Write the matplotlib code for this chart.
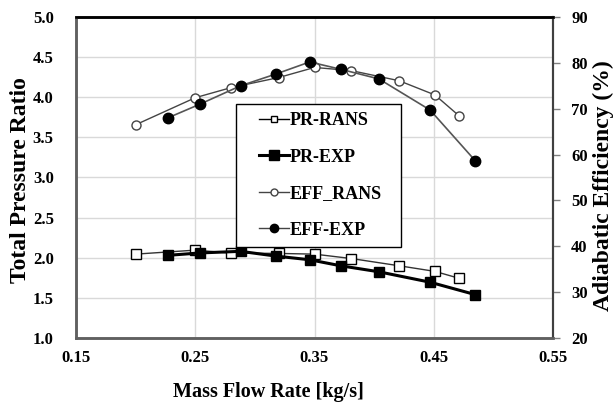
import matplotlib
matplotlib.use("Agg")
import matplotlib.pyplot as plt
from matplotlib.lines import Line2D
from matplotlib.legend_handler import HandlerLine2D

# Data
pr_rans_x = [0.200, 0.250, 0.280, 0.320, 0.350, 0.381, 0.421, 0.451, 0.471]
pr_rans_y = [2.045, 2.095, 2.058, 2.054, 2.045, 1.99, 1.90, 1.83, 1.745]
pr_exp_x = [0.227, 0.254, 0.288, 0.318, 0.346, 0.372, 0.404, 0.447, 0.485]
pr_exp_y = [2.03, 2.06, 2.08, 2.02, 1.975, 1.90, 1.825, 1.695, 1.54]
eff_rans_x = [0.200, 0.250, 0.280, 0.320, 0.350, 0.381, 0.421, 0.451, 0.471]
eff_rans_y = [66.5, 72.4, 74.6, 76.8, 79.0, 78.3, 76.1, 73.0, 68.5]
eff_exp_x = [0.227, 0.254, 0.288, 0.318, 0.346, 0.372, 0.404, 0.447, 0.485]
eff_exp_y = [68.0, 71.0, 75.0, 77.6, 80.2, 78.6, 76.5, 69.7, 58.6]

x_ticks = [0.15, 0.25, 0.35, 0.45, 0.55]
pr_ticks = [1.0, 1.5, 2.0, 2.5, 3.0, 3.5, 4.0, 4.5, 5.0]
eff_ticks = [20, 30, 40, 50, 60, 70, 80, 90]
legend_labels = ['PR-RANS', 'PR-EXP', 'EFF_RANS', 'EFF-EXP']

plt.rcParams['font.family'] = ['Liberation Serif', 'DejaVu Serif']
plt.rcParams['font.weight'] = 'bold'

fig = plt.figure(figsize=(6.14, 4.04), dpi=100)
ax = fig.add_axes([76/614, 1-338/404, (553-76)/614, (338-17)/404])
ax2 = ax.twinx()

ax.set_xlim(0.15, 0.55)
ax.set_ylim(1.0, 5.0)
ax2.set_ylim(20, 90)
ax.set_xticks(x_ticks)
ax.set_xticklabels([f"{v:.2f}" for v in x_ticks])
ax.set_yticks(pr_ticks)
ax.set_yticklabels([f"{v:.1f}" for v in pr_ticks])
ax2.set_yticks(eff_ticks)
ax2.set_yticklabels([str(v) for v in eff_ticks])

ax.grid(True, color='#d9d9d9', linewidth=1.0)
ax.set_axisbelow(True)
ax.tick_params(axis='x', length=0, pad=9, labelsize=12)
ax.tick_params(axis='y', length=0, pad=16, labelsize=12)
ax2.tick_params(axis='y', length=5, width=1, color='#808080', pad=8, labelsize=12, direction='out')

for a in (ax, ax2):
    a.spines['left'].set_color('#606060')
    a.spines['left'].set_linewidth(1.8)
    a.spines['bottom'].set_color('#606060')
    a.spines['bottom'].set_linewidth(1.8)
    a.spines['top'].set_color('black')
    a.spines['top'].set_linewidth(1.8)
    a.spines['right'].set_color('#404040')
    a.spines['right'].set_linewidth(1.5)

ax.plot(pr_rans_x, pr_rans_y, color='#333333', lw=1.0, marker='s', ms=6.5,
        mfc='white', mec='black', mew=1.0, zorder=4)
ax.plot(pr_exp_x, pr_exp_y, color='black', lw=2.2, marker='s', ms=7.5,
        mfc='black', mec='black', zorder=5)
ax2.plot(eff_rans_x, eff_rans_y, color='#444444', lw=1.0, marker='o', ms=6.5,
         mfc='white', mec='#444444', mew=1.0, zorder=4)
ax2.plot(eff_exp_x, eff_exp_y, color='#555555', lw=1.2, marker='o', ms=7.5,
         mfc='black', mec='black', zorder=5)

fig.text(268/614, 1-392/404, 'Mass Flow Rate [kg/s]', fontsize=14.5, fontweight='bold',
         ha='center', va='center')
fig.text(21/614, 1-180/404, 'Total Pressure Ratio', fontsize=17, fontweight='bold',
         ha='center', va='center', rotation=90)
fig.text(603/614, 1-186/404, 'Adiabatic Efficiency (%)', fontsize=17, fontweight='bold',
         ha='center', va='center', rotation=90)

h1 = Line2D([], [], color='black', lw=1.0, marker='s', ms=5, mfc='white', mec='black')
h2 = Line2D([], [], color='black', lw=2.2, marker='s', ms=6.5, mfc='black', mec='black')
h3 = Line2D([], [], color='#444444', lw=1.0, marker='o', ms=5, mfc='white', mec='#444444')
h4 = Line2D([], [], color='#444444', lw=1.0, marker='o', ms=6, mfc='black', mec='black')
hmap = {h: HandlerLine2D(xpad=0.83) for h in (h1, h2, h3, h4)}
leg = ax2.legend([h1, h2, h3, h4], legend_labels,
                 loc='upper left', mode='expand',
                 bbox_to_anchor=(236/614, 1-243/404, 165/614, 139/404),
                 bbox_transform=fig.transFigure, fancybox=False, framealpha=1,
                 edgecolor='black', prop={'size': 13, 'weight': 'bold'},
                 handlelength=2.5, handletextpad=0.0, labelspacing=1.08,
                 borderpad=0.45, borderaxespad=0, handler_map=hmap)
leg.get_frame().set_linewidth(1.0)
leg.set_zorder(10)

fig.savefig('out.png', dpi=100)
